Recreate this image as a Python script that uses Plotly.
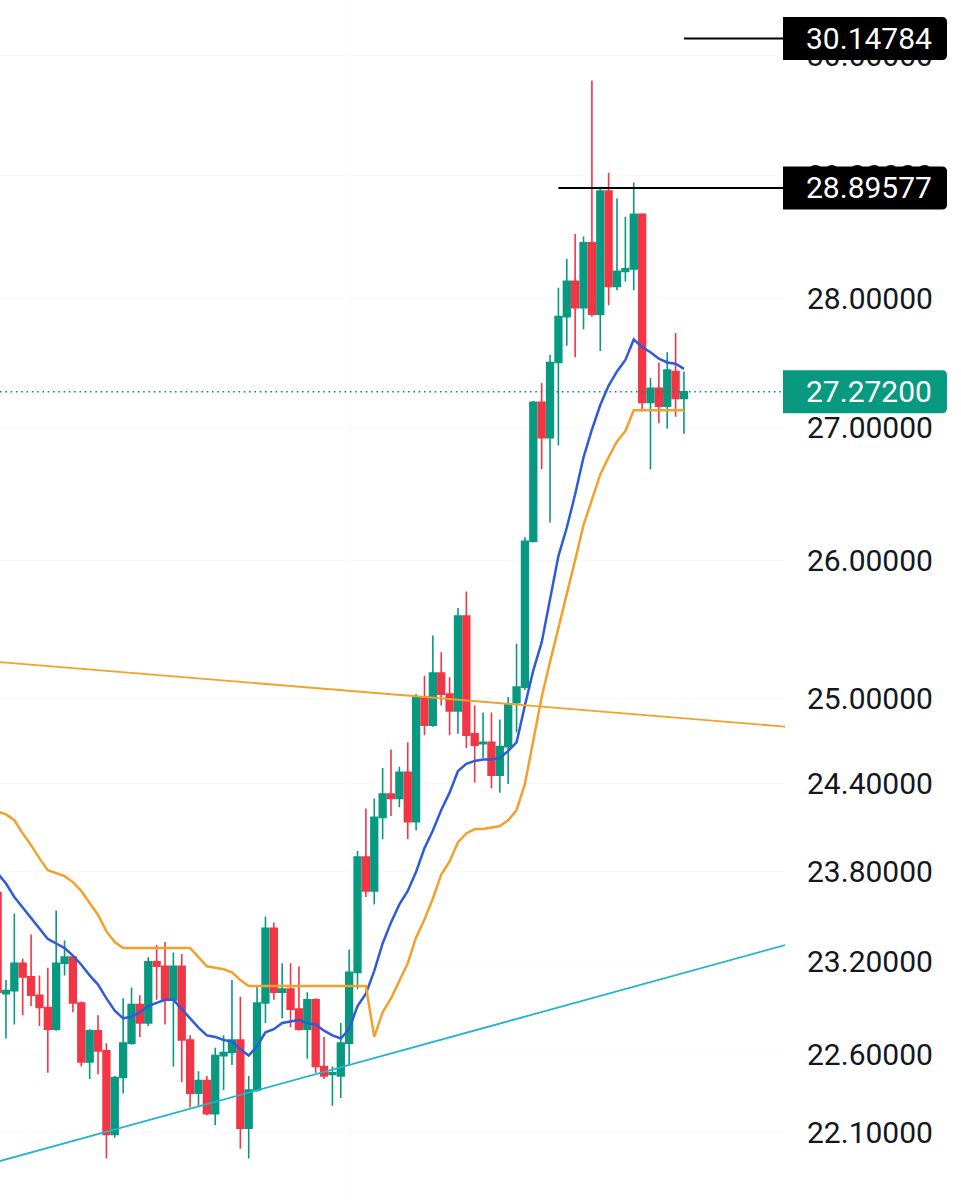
import math
import plotly.graph_objects as go

# ---------------- data ----------------
opens = [23.66, 22.99, 23.01, 23.19, 23.10, 22.98, 22.90, 22.76, 23.19, 23.23,
         22.93, 22.55, 22.75, 22.62, 22.09, 22.45, 22.67, 22.92, 22.80, 23.20,
         23.17, 22.95, 23.17, 22.69, 22.35, 22.43, 22.22, 22.59, 22.61, 22.69,
         22.13, 22.37, 22.93, 23.42, 23.00, 23.02, 22.89, 22.76, 22.95, 22.52,
         22.47, 22.46, 22.67, 23.13, 23.90, 23.67, 24.17, 24.33, 24.30, 24.48,
         24.14, 25.01, 24.81, 25.18, 25.03, 24.91, 25.59, 24.75, 24.68, 24.69,
         24.46, 24.66, 24.97, 25.08, 26.14, 27.19, 26.92, 27.50, 27.86, 28.14,
         27.93, 28.45, 27.88, 28.87, 28.10, 28.22, 28.24, 28.68, 27.19, 27.30,
         27.16, 27.43, 27.22]
highs = [23.71, 23.08, 23.52, 23.22, 23.38, 23.11, 23.16, 23.54, 23.34, 23.24,
         22.94, 22.76, 22.85, 22.67, 22.46, 22.96, 23.03, 22.98, 23.23, 23.31,
         23.33, 23.26, 23.25, 22.72, 22.49, 22.46, 22.64, 22.72, 23.08, 22.97,
         22.46, 23.04, 23.50, 23.46, 23.19, 23.19, 23.17, 23.00, 22.96, 22.71,
         22.52, 22.80, 23.28, 23.94, 24.23, 24.30, 24.51, 24.64, 24.52, 24.69,
         25.03, 25.16, 25.45, 25.33, 25.15, 25.65, 25.77, 24.95, 24.90, 24.90,
         24.85, 25.01, 25.39, 26.17, 27.20, 27.34, 27.56, 28.09, 28.32, 28.52,
         28.50, 29.79, 28.90, 29.02, 28.81, 28.66, 28.94, 28.69, 27.38, 27.50,
         27.58, 27.73, 27.43]
lows = [22.92, 22.70, 22.79, 22.85, 22.91, 22.78, 22.48, 22.75, 23.11, 22.87,
        22.52, 22.44, 22.47, 21.94, 22.07, 22.35, 22.66, 22.71, 22.78, 22.95,
        22.79, 22.52, 22.42, 22.26, 22.27, 22.21, 22.15, 22.37, 22.53, 22.00,
        21.94, 22.36, 22.80, 22.95, 22.83, 22.77, 22.75, 22.57, 22.48, 22.44,
        22.27, 22.32, 22.53, 23.02, 23.63, 23.58, 24.02, 24.18, 24.24, 24.02,
        24.08, 24.74, 24.80, 24.95, 24.74, 24.75, 24.65, 24.41, 24.58, 24.37,
        24.34, 24.40, 24.76, 25.06, 26.13, 26.68, 26.28, 26.86, 27.63, 27.54,
        27.76, 27.86, 27.59, 27.95, 28.07, 28.14, 28.07, 27.12, 26.68, 27.03,
        26.99, 27.08, 26.95]
closes = [23.00, 23.01, 23.19, 23.10, 22.98, 22.90, 22.76, 23.19, 23.23, 22.93,
          22.55, 22.75, 22.62, 22.09, 22.45, 22.67, 22.92, 22.80, 23.20, 23.17,
          22.95, 23.17, 22.69, 22.35, 22.43, 22.22, 22.59, 22.61, 22.69, 22.13,
          22.37, 22.93, 23.42, 23.00, 23.02, 22.89, 22.76, 22.95, 22.52, 22.46,
          22.48, 22.67, 23.13, 23.90, 23.67, 24.17, 24.33, 24.30, 24.48, 24.14,
          25.01, 24.81, 25.18, 25.03, 24.91, 25.59, 24.74, 24.67, 24.69, 24.46,
          24.66, 24.96, 25.08, 26.14, 27.19, 26.92, 27.50, 27.86, 28.14, 27.93,
          28.45, 27.88, 28.87, 28.10, 28.22, 28.24, 28.68, 27.19, 27.30, 27.16,
          27.44, 27.22, 27.272]

ma_blue = [23.79, 23.72, 23.63, 23.56, 23.49, 23.42, 23.35, 23.32, 23.29, 23.24,
           23.18, 23.11, 23.05, 22.96, 22.88, 22.83, 22.84, 22.87, 22.91, 22.93,
           22.95, 22.95, 22.89, 22.83, 22.77, 22.72, 22.71, 22.69, 22.68, 22.63,
           22.59, 22.65, 22.74, 22.76, 22.80, 22.81, 22.82, 22.80, 22.79, 22.75,
           22.72, 22.70, 22.76, 22.91, 22.99, 23.14, 23.32, 23.46, 23.58, 23.67,
           23.80, 23.96, 24.08, 24.22, 24.34, 24.49, 24.54, 24.56, 24.57, 24.57,
           24.58, 24.63, 24.69, 24.95, 25.20, 25.40, 25.72, 26.03, 26.24, 26.49,
           26.77, 26.98, 27.17, 27.32, 27.43, 27.52, 27.68, 27.62, 27.58, 27.53,
           27.50, 27.49, 27.45]
band_orange = [24.21, 24.19, 24.15, 24.06, 23.98, 23.89, 23.81, 23.79, 23.77, 23.73,
               23.67, 23.59, 23.51, 23.40, 23.33, 23.29, 23.29, 23.29, 23.29, 23.29,
               23.29, 23.29, 23.29, 23.29, 23.23, 23.17, 23.16, 23.15, 23.13, 23.08,
               23.04, 23.04, 23.04, 23.04, 23.04, 23.04, 23.04, 23.04, 23.04, 23.04,
               23.04, 23.04, 23.04, 23.04, 23.04, 22.71, 22.87, 22.96, 23.08, 23.19,
               23.36, 23.48, 23.62, 23.78, 23.87, 24.00, 24.06, 24.09, 24.09, 24.10,
               24.11, 24.15, 24.22, 24.40, 24.69, 25.01, 25.26, 25.50, 25.75, 26.00,
               26.26, 26.45, 26.64, 26.77, 26.89, 26.97, 27.13, 27.13, 27.13, 27.13,
               27.13, 27.13, 27.13]

bars = list(range(len(opens)))

# trend lines: [bar, price] at both ends
resist_bars = [0, 94.1]
resist_prices = [25.26, 24.80]
support_bars = [0, 94.1]
support_prices = [21.92, 23.31]

# horizontal levels
level_high = 30.14784
level_high_from = 82
level_mid = 28.89577
level_mid_from = 67
last_price = 27.272

tick_vals = [22.1, 22.6, 23.2, 23.8, 24.4, 25.0, 26.0, 27.0, 28.0, 29.0, 30.0]
x_grid_vals = [42.1]

# ---------------- styling ----------------
GREEN = "#089981"
RED = "#F23645"
BLUE = "#2f5bd8"
ORANGE = "#f2a12c"
CYAN = "#22b5cc"
TXT = "#131722"
FONT = "Roboto"

W, H = 961, 1200
PLOT_W = 785
y_lo, y_hi = 21.683, 30.479
x_lo, x_hi = 0.287, 94.07
lg_lo, lg_hi = math.log10(y_lo), math.log10(y_hi)


def paper_y(price):
    return (math.log10(price) - lg_lo) / (lg_hi - lg_lo)


fig = go.Figure()

fig.add_trace(go.Candlestick(
    x=bars, open=opens, high=highs, low=lows, close=closes,
    increasing=dict(line=dict(color=GREEN, width=1.6), fillcolor=GREEN),
    decreasing=dict(line=dict(color=RED, width=1.6), fillcolor=RED),
    whiskerwidth=0, hoverinfo="skip", showlegend=False))

fig.add_trace(go.Scatter(x=bars, y=ma_blue, mode="lines",
                         line=dict(color=BLUE, width=2.5), hoverinfo="skip", showlegend=False))
fig.add_trace(go.Scatter(x=bars, y=band_orange, mode="lines",
                         line=dict(color=ORANGE, width=2.5), hoverinfo="skip", showlegend=False))
fig.add_trace(go.Scatter(x=resist_bars, y=resist_prices, mode="lines",
                         line=dict(color=ORANGE, width=1.8), hoverinfo="skip", showlegend=False))
fig.add_trace(go.Scatter(x=support_bars, y=support_prices, mode="lines",
                         line=dict(color=CYAN, width=1.8), hoverinfo="skip", showlegend=False))
fig.add_trace(go.Scatter(x=[x_lo, x_hi], y=[last_price, last_price], mode="lines",
                         line=dict(color="#1f7f78", width=1.5, dash="1.6px,3.7px"),
                         hoverinfo="skip", showlegend=False))
fig.add_trace(go.Scatter(x=[level_high_from, x_hi], y=[level_high, level_high], mode="lines",
                         line=dict(color="#000000", width=2), hoverinfo="skip", showlegend=False))
fig.add_trace(go.Scatter(x=[level_mid_from, x_hi], y=[level_mid, level_mid], mode="lines",
                         line=dict(color="#000000", width=2), hoverinfo="skip", showlegend=False))

# price label boxes on the axis
shapes = []
annotations = []
box_x0, box_x1 = 783 / PLOT_W, 947 / PLOT_W
box_h = 43 / H
rx, ry = 5 / PLOT_W, 5 / H
for price, bg, fg in [(level_high, "#000000", "#ffffff"),
                      (level_mid, "#000000", "#ffffff"),
                      (last_price, GREEN, "#ffffff")]:
    yc = paper_y(price)
    y0, y1 = yc - box_h / 2, yc + box_h / 2
    path = (f"M {box_x0},{y0} L {box_x1 - rx},{y0} Q {box_x1},{y0} {box_x1},{y0 + ry} "
            f"L {box_x1},{y1 - ry} Q {box_x1},{y1} {box_x1 - rx},{y1} L {box_x0},{y1} Z")
    shapes.append(dict(type="path", path=path, xref="paper", yref="paper",
                       fillcolor=bg, line=dict(width=0), layer="above"))
    annotations.append(dict(x=869 / PLOT_W, y=yc, xref="paper", yref="paper",
                            text=f"{price:.5f}", showarrow=False,
                            xanchor="center", yanchor="middle",
                            font=dict(family=FONT, size=30, color=fg)))

fig.update_layout(
    width=W, height=H,
    margin=dict(l=0, r=W - PLOT_W, t=0, b=0),
    paper_bgcolor="#ffffff", plot_bgcolor="#ffffff",
    showlegend=False, boxgap=0.2, boxgroupgap=0,
    shapes=shapes, annotations=annotations,
    xaxis=dict(range=[x_lo, x_hi], showticklabels=False, showgrid=True,
               gridcolor="#f9f9fa", tickvals=x_grid_vals,
               zeroline=False, showline=False, rangeslider=dict(visible=False),
               fixedrange=True),
    yaxis=dict(type="log", side="right", range=[lg_lo, lg_hi],
               tickvals=tick_vals, ticktext=[f"{v:.5f}" for v in tick_vals],
               tickfont=dict(family=FONT, size=30, color=TXT),
               showgrid=True, gridcolor="#f9f9fa", gridwidth=1,
               zeroline=False, showline=False, ticks="",
               ticklabelstandoff=21, fixedrange=True),
)

fig.write_html("out.html")
